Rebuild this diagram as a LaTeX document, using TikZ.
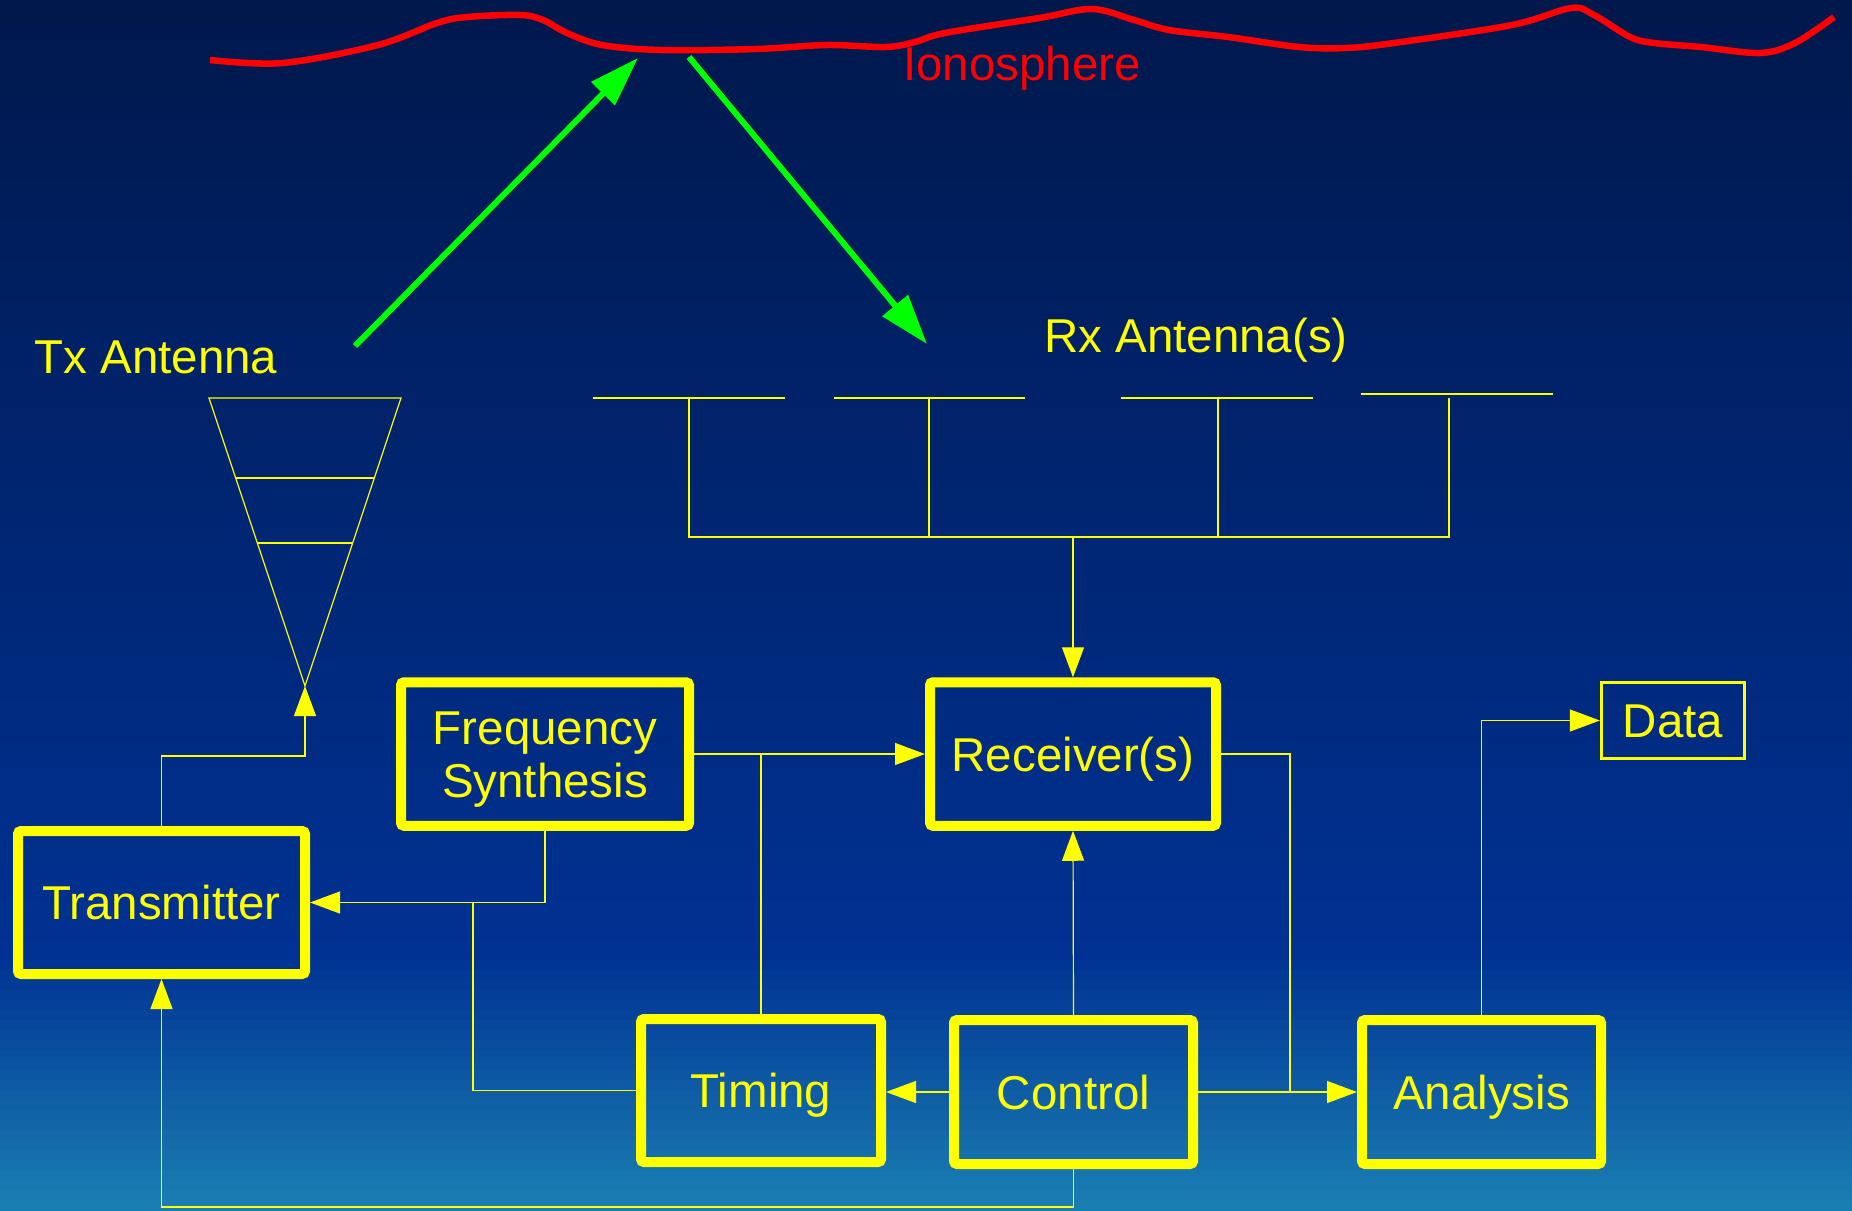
\documentclass[tikz,border=0pt]{standalone}
\usepackage{fontspec}
\setmainfont{Liberation Sans}
\usetikzlibrary{arrows.meta}
\definecolor{yel}{RGB}{255,255,0}
\definecolor{grn}{RGB}{0,255,0}
\definecolor{rd}{RGB}{255,0,0}
\begin{document}
\begin{tikzpicture}[x=1pt,y=-1pt,
  bigfont/.style={font=\fontsize{47.5}{53}\selectfont},
  capc/.style={text height=34pt, text depth=0pt},
  blk/.style={draw=yel, line width=10pt, rounded corners=3pt, inner sep=0pt,
    text=yel, bigfont, align=center},
  datab/.style={draw=yel, line width=3.3pt, inner sep=0pt, text=yel, bigfont,
    minimum width=143pt, minimum height=76pt, capc},
  wire/.style={draw=yel, line width=1.2pt},
  arr/.style={wire, -{Triangle[length=30pt,width=22pt]}},
  ray/.style={draw=grn, line width=6pt, -{Triangle[length=50pt,width=32pt]}},
  lbl/.style={text=yel, bigfont, inner sep=0pt}
]
\useasboundingbox (0,0) rectangle (1852,1210);
% background gradient
\foreach \i in {0,...,121}{
  \pgfmathsetmacro\yy{\i*10}
  \pgfmathsetmacro\ta{min(\yy/950,1)}
  \pgfmathsetmacro\tb{max(\yy-950,0)/260}
  \pgfmathtruncatemacro\rr{28*\tb}
  \pgfmathtruncatemacro\gg{24+26*\ta+80*\tb}
  \pgfmathtruncatemacro\bb{76+72*\ta+32*\tb}
  \definecolor{stripc}{RGB}{\rr,\gg,\bb}
  \fill[stripc] (0,\yy) rectangle (1852,\yy+11);
}
% ionosphere
\draw[rd, line width=6.5pt] plot[smooth, tension=0.55] coordinates {
 (210,60) (283,63) (378,45) (437,23) (467,17) (520,15) (543,20) (567,33)
 (602,45) (661,50) (756,49) (827,45) (886,47) (915,42) (945,33) (1039,18)
 (1092,9) (1134,20) (1169,30) (1228,37) (1299,47) (1346,48) (1394,43)
 (1512,25) (1571,8) (1594,15) (1630,37) (1654,43) (1701,47) (1760,53)
 (1795,43) (1834,17)};
\node[text=rd, bigfont, inner sep=0pt, anchor=base] (ion) at (1022,80) {Ionosphere};
% rays
\coordinate (r1s) at (355,346);
\coordinate (r1e) at (638,58);
\coordinate (r2s) at (689,57);
\coordinate (r2e) at (927,344);
\draw[ray] (r1s) -- (r1e);
\draw[ray] (r2s) -- (r2e);
% labels
\node[lbl, anchor=base] (txl) at (156,373) {Tx Antenna};
\node[lbl, anchor=base] (rxl) at (1196,352) {Rx Antenna(s)};
% Tx antenna
\coordinate (tl) at (209,398);
\coordinate (tr) at (401,398);
\coordinate (apex) at (305,686);
\draw[wire] (tl) -- (tr) -- (apex) -- cycle;
\draw[wire] (236,478) -- (374,478);
\draw[wire] (257.5,543) -- (352.5,543);
% Rx antennas
\coordinate (a1) at (689,398);
\coordinate (a2) at (929,398);
\coordinate (a3) at (1218,398);
\coordinate (a4) at (1449,398);
\draw[wire] (593,398) -- (785,398);
\draw[wire] (834,398) -- (1025,398);
\draw[wire] (1121,398) -- (1313,398);
\draw[wire] (1361,394) -- (1553,394);
\coordinate (bus1) at (689,537);
\coordinate (bus4) at (1449,537);
\draw[wire] (a1) -- (bus1) -- (bus4) -- (a4);
\draw[wire] (a2) -- (a2 |- bus1);
\draw[wire] (a3) -- (a3 |- bus1);
% blocks
\node[blk, capc, minimum width=287pt, minimum height=143pt] (tx) at (161.5,902.5) {Transmitter};
\node[blk, text height=87pt, text depth=0pt, minimum width=288pt, minimum height=143.5pt] (fs) at (545,754) {Frequency\\Synthesis};
\node[blk, capc, minimum width=286pt, minimum height=143.5pt] (recv) at (1073,754) {Receiver(s)};
\node[blk, capc, minimum width=240pt, minimum height=143pt] (tim) at (761,1090.5) {Timing};
\node[blk, capc, minimum width=239pt, minimum height=144pt] (ctl) at (1073.5,1092) {Control};
\node[blk, capc, minimum width=239pt, minimum height=144pt] (ana) at (1481.5,1092) {Analysis};
\node[datab] (data) at (1673,720.5) {Data};
% connectors
\draw[arr] (recv.north |- bus1) -- (recv.north);
\draw[arr] (fs.east) -- (recv.west);
\draw[wire] (tim.north) -- (tim.north |- fs.east);
\draw[arr] (fs.south) |- (tx.east);
\coordinate (jl) at (473,902.5);
\draw[wire] (tim.west) -| (jl);
\draw[arr] (ctl.north) -- (recv.south);
\draw[arr] (ctl.west) -- (ctl.west -| tim.east);
\draw[arr] (ctl.east) -- (ana.west);
\coordinate (jr) at (1290,1092);
\draw[wire] (recv.east) -| (jr);
\draw[arr] (ana.north) |- (data.west);
\draw[arr] (ctl.south) -- ++(0,38) -| (tx.south);
\draw[arr] (tx.north) -- ++(0,-70) -| (apex);
\end{tikzpicture}
\end{document}
